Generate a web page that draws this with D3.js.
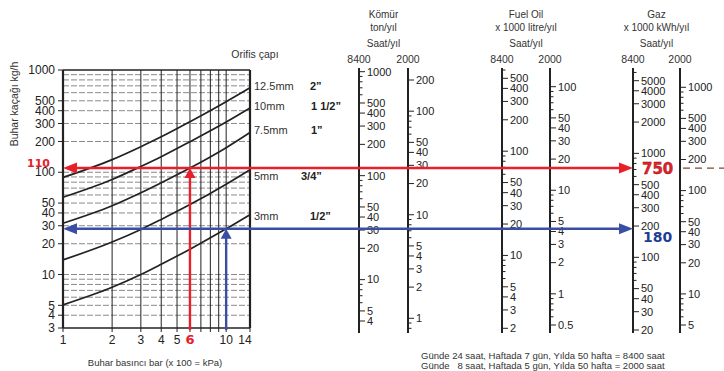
<!DOCTYPE html>
<html>
<head>
<meta charset="utf-8">
<script src="https://cdn.jsdelivr.net/npm/d3@7"></script>
<style>
  body { margin: 0; background: #fff; }
  svg { display: block; font-family: "Liberation Sans", Arial, sans-serif; }
</style>
</head>
<body>
<svg id="chart" width="724" height="371"></svg>
<script>
// steam loss (kg/h) through an orifice, by steam pressure (bar)
const pressure = [1, 2, 3, 4, 6, 10, 14];
const orificeMm = ["12.5mm", "10mm", "7.5mm", "5mm", "3mm"];
const orificeInch = ["2\u201d", "1 1/2\u201d", "1\u201d", "3/4\u201d", "1/2\u201d"];
const loss125 = [89, 133, 178, 222, 312, 490, 670];
const loss10 = [57, 85, 114, 142, 199, 310, 425];
const loss75 = [31.7, 47, 63, 79, 110, 174, 245];
const loss5 = [13.9, 20.8, 27.6, 34.6, 48.3, 76.5, 106];
const loss3 = [5.05, 7.5, 10, 12.6, 17.7, 28, 38.5];

const lossTicks = [1000, 500, 400, 300, 200, 100, 50, 40, 30, 20, 10, 5, 4, 3];
const pressureTicks = [1, 2, 3, 4, 5, 10, 14];
const pressureGrid = [1, 2, 3, 4, 5, 6, 7, 8, 9, 10, 14];

// the two worked examples
const redPressure = 6, redLoss = 110, redGas = 750;
const bluePressure = 10, blueLoss = 28, blueGas = 180;

// nomogram scale labels
const komur8400 = [1000, 500, 400, 300, 200, 100, 50, 40, 30, 20, 10, 5, 4];
const komur2000 = [200, 100, 50, 40, 30, 20, 10, 5, 4, 3, 2, 1];
const fuel8400 = [500, 400, 300, 200, 100, 50, 40, 30, 20, 10, 5, 4, 3, 2];
const fuel2000 = [100, 50, 40, 30, 20, 10, 5, 4, 3, 2, 1, 0.5];
const gaz8400 = [5000, 4000, 3000, 2000, 1000, 500, 400, 300, 200, 100, 50, 40, 30, 20];
const gaz2000 = [1000, 500, 400, 300, 200, 100, 50, 40, 30, 20, 10, 5];

const svg = d3.select("#chart");
const ink = "#222";
const red = "#e8202a";
const blue = "#3a4fa3";

const pL = 63, pR = 250, pT = 70, pB = 328;
const x = d3.scaleLog().domain([1, 14]).range([pL, pR]);
const y = d3.scaleLog().domain([3, 1000]).range([pB, pT]);

// horizontal grid
svg.append("g")
  .selectAll("line")
  .data(y.ticks())
  .join("line")
  .attr("x1", pL).attr("x2", pR)
  .attr("y1", d => y(d)).attr("y2", d => y(d))
  .attr("stroke", d => (d === 3 || d === 1000) ? ink : "#8a8a8a")
  .attr("stroke-width", d => (d === 3 || d === 1000) ? 1.5 : 1)
  .attr("stroke-dasharray", d => (d === 3 || d === 1000) ? null : "6,2");

// vertical grid
svg.append("g")
  .selectAll("line")
  .data(pressureGrid)
  .join("line")
  .attr("x1", d => x(d)).attr("x2", d => x(d))
  .attr("y1", pT).attr("y2", pB)
  .attr("stroke", ink)
  .attr("stroke-width", d => (d === 1 || d === 14) ? 2.2 : 1);

// y axis ticks and labels
const yAxis = svg.append("g");
yAxis.selectAll("line")
  .data(lossTicks)
  .join("line")
  .attr("x1", pL - 5).attr("x2", pL)
  .attr("y1", d => y(d)).attr("y2", d => y(d))
  .attr("stroke", ink);
yAxis.selectAll("text")
  .data(lossTicks)
  .join("text")
  .attr("x", pL - 8)
  .attr("y", d => y(d))
  .attr("dy", "0.35em")
  .attr("text-anchor", "end")
  .attr("font-size", 12)
  .attr("fill", ink)
  .text(d => d);

svg.append("text")
  .attr("transform", "translate(18,104) rotate(-90)")
  .attr("text-anchor", "middle")
  .attr("font-size", 10.5)
  .attr("fill", "#333")
  .text("Buhar kaçağı kg/h");

// x axis ticks and labels
const xAxis = svg.append("g");
xAxis.selectAll("line")
  .data(pressureGrid)
  .join("line")
  .attr("x1", d => x(d)).attr("x2", d => x(d))
  .attr("y1", pB).attr("y2", pB + 4)
  .attr("stroke", ink);
xAxis.selectAll("text")
  .data(pressureTicks)
  .join("text")
  .attr("x", d => x(d) - (d === 14 ? 5 : 0))
  .attr("y", 344)
  .attr("text-anchor", "middle")
  .attr("font-size", 12)
  .attr("fill", ink)
  .text(d => d);

svg.append("text")
  .attr("x", 155).attr("y", 366)
  .attr("text-anchor", "middle")
  .attr("font-size", 9.5)
  .attr("fill", "#333")
  .text("Buhar basıncı bar (x 100 = kPa)");

// curves
const series = [loss125, loss10, loss75, loss5, loss3];
const line = d3.line()
  .x((d, i) => x(pressure[i]))
  .y(d => y(d))
  .curve(d3.curveMonotoneX);

svg.append("g")
  .selectAll("path")
  .data(series)
  .join("path")
  .attr("d", line)
  .attr("fill", "none")
  .attr("stroke", ink)
  .attr("stroke-width", 1.7);

// curve labels
const labelShift = [-2, -2, -2, 6, 1];
const inchX = [310, 311, 311, 301, 310];
svg.append("text")
  .attr("x", 255).attr("y", 58)
  .attr("text-anchor", "middle")
  .attr("font-size", 10.5)
  .attr("fill", "#333")
  .text("Orifis çapı");
series.forEach((s, i) => {
  const ly = y(s[s.length - 1]) + labelShift[i];
  svg.append("text")
    .attr("x", pR + 4).attr("y", ly)
    .attr("dy", "0.35em")
    .attr("font-size", 11)
    .attr("fill", "#333")
    .text(orificeMm[i]);
  svg.append("text")
    .attr("x", inchX[i]).attr("y", ly)
    .attr("dy", "0.35em")
    .attr("font-size", 11)
    .attr("font-weight", "bold")
    .attr("fill", ink)
    .text(orificeInch[i]);
});

// nomogram scales
const axTop = 68, axBottom = 333;
function nomAxis(xPos, hi, yHi, lo, yLo, labels) {
  const s = d3.scaleLog().domain([hi, lo]).range([yHi, yLo]);
  const full = d3.scaleLog().domain([s.invert(axTop), s.invert(axBottom)]).range([axTop, axBottom]);
  const g = svg.append("g");
  g.append("line")
    .attr("x1", xPos).attr("x2", xPos)
    .attr("y1", axTop).attr("y2", axBottom)
    .attr("stroke", ink).attr("stroke-width", 2);
  const minor = full.ticks().filter(t => !labels.some(l => Math.abs(l - t) / l < 1e-6));
  g.selectAll("line.minor")
    .data(minor)
    .join("line")
    .attr("class", "minor")
    .attr("x1", xPos).attr("x2", xPos + 3.5)
    .attr("y1", d => full(d)).attr("y2", d => full(d))
    .attr("stroke", ink);
  g.selectAll("line.major")
    .data(labels)
    .join("line")
    .attr("class", "major")
    .attr("x1", xPos).attr("x2", xPos + 6)
    .attr("y1", d => s(d)).attr("y2", d => s(d))
    .attr("stroke", ink);
  g.selectAll("text")
    .data(labels)
    .join("text")
    .attr("x", xPos + 8)
    .attr("y", d => s(d))
    .attr("dy", "0.35em")
    .attr("font-size", 11)
    .attr("fill", ink)
    .text(d => d);
  return s;
}

function header(x8400, x2000, line1, line2) {
  const cx = (x8400 + x2000) / 2;
  const g = svg.append("g")
    .attr("font-size", 10)
    .attr("fill", "#333");
  g.append("text").attr("x", cx).attr("y", 18).attr("text-anchor", "middle").text(line1);
  g.append("text").attr("x", cx).attr("y", 31).attr("text-anchor", "middle").text(line2);
  g.append("text").attr("x", cx).attr("y", 47).attr("text-anchor", "middle").text("Saat/yıl");
  g.append("text").attr("x", x8400).attr("y", 63).attr("text-anchor", "middle").attr("font-size", 10.5).text("8400");
  g.append("text").attr("x", x2000).attr("y", 63).attr("text-anchor", "middle").attr("font-size", 10.5).text("2000");
}

header(359, 408, "Kömür", "ton/yıl");
nomAxis(359, 1000, 71.7, 4, 321, komur8400);
nomAxis(408, 200, 80, 1, 318.3, komur2000);

header(502, 550, "Fuel Oil", "x 1000 litre/yıl");
nomAxis(502, 500, 78.3, 2, 328.3, fuel8400);
nomAxis(550, 100, 86.7, 0.5, 325, fuel2000);

header(633, 680, "Gaz", "x 1000 kWh/yıl");
nomAxis(633, 5000, 80.7, 20, 330, gaz8400);
nomAxis(680, 1000, 87.3, 5, 325, gaz2000);

// worked examples: arrows
function arrowHead(tx, ty, dir, color) {
  const L = 14, H = 5.5;
  let pts;
  if (dir === "left") pts = [[tx, ty], [tx + L, ty - H], [tx + L, ty + H]];
  else if (dir === "right") pts = [[tx, ty], [tx - L, ty - H], [tx - L, ty + H]];
  else pts = [[tx, ty], [tx - H, ty + 10], [tx + H, ty + 10]];
  svg.append("path").attr("d", d3.line()(pts) + "Z").attr("fill", color);
}

function example(p, loss, color) {
  const yy = y(loss);
  svg.append("line")
    .attr("x1", pL + 10).attr("x2", 633 - 12)
    .attr("y1", yy).attr("y2", yy)
    .attr("stroke", color).attr("stroke-width", 2.4);
  svg.append("line")
    .attr("x1", x(p)).attr("x2", x(p))
    .attr("y1", pB + 2).attr("y2", yy + 8)
    .attr("stroke", color).attr("stroke-width", 2.4);
  arrowHead(pL, yy, "left", color);
  arrowHead(633, yy, "right", color);
  arrowHead(x(p), yy, "up", color);
}

example(redPressure, redLoss, red);
example(bluePressure, blueLoss, blue);

// dashed continuation at the 750 reading
svg.append("line")
  .attr("x1", 683).attr("x2", 724)
  .attr("y1", y(redLoss)).attr("y2", y(redLoss))
  .attr("stroke", "#7a4a3a").attr("stroke-width", 1.2)
  .attr("stroke-dasharray", "7,5");

// example values
const bold = "DejaVu Sans, sans-serif";
svg.append("text")
  .attr("x", 27).attr("y", y(redLoss) - 1.5)
  .attr("font-family", bold).attr("font-weight", "bold").attr("font-size", 11)
  .attr("fill", red).text(redLoss);
svg.append("text")
  .attr("x", x(redPressure)).attr("y", 344)
  .attr("text-anchor", "middle")
  .attr("font-family", bold).attr("font-weight", "bold").attr("font-size", 13)
  .attr("fill", red).text(redPressure);
svg.append("text")
  .attr("x", 642).attr("y", y(redLoss) + 6)
  .attr("font-family", bold).attr("font-weight", "bold").attr("font-size", 15)
  .attr("fill", red).attr("stroke", "#8a1010").attr("stroke-width", 0.4)
  .text(redGas);
svg.append("text")
  .attr("x", 643).attr("y", y(blueLoss) + 13)
  .attr("font-family", bold).attr("font-weight", "bold").attr("font-size", 14)
  .attr("fill", "#1d3e94").text(blueGas);

// footnote
const note = svg.append("g").attr("font-size", 9.5).attr("fill", "#333");
note.append("text").attr("x", 421).attr("y", 359)
  .text("Günde 24 saat, Haftada 7 gün, Yılda 50 hafta = 8400 saat");
note.append("text").attr("x", 421).attr("y", 369)
  .attr("xml:space", "preserve")
  .text("Günde   8 saat, Haftada 5 gün, Yılda 50 hafta = 2000 saat");
</script>
</body>
</html>
